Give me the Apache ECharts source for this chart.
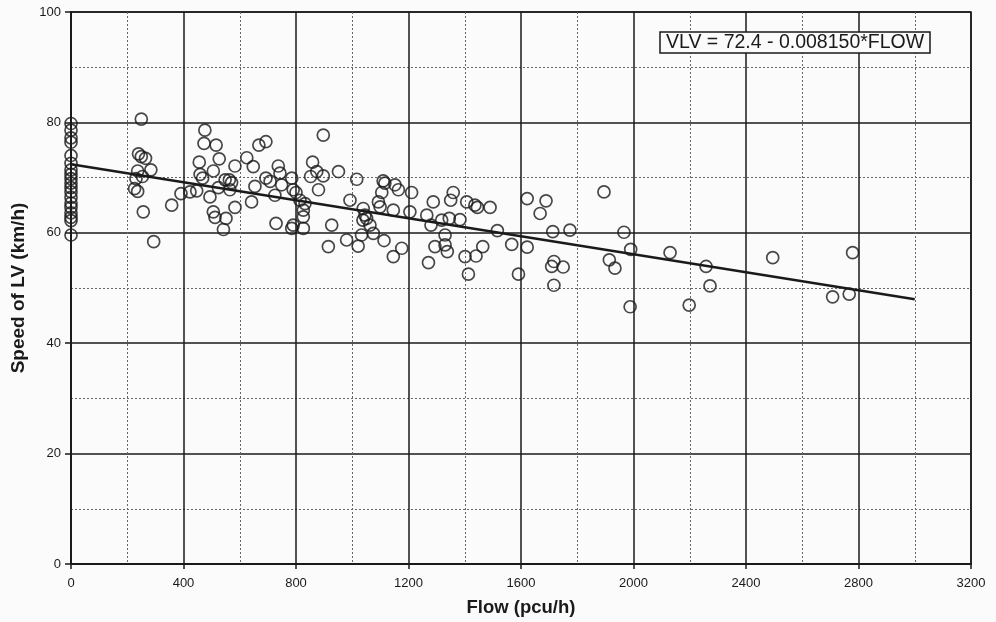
<!DOCTYPE html>
<html>
<head>
<meta charset="utf-8">
<script src="https://cdn.jsdelivr.net/npm/echarts@6/dist/echarts.min.js"></script>
<style>
html,body{margin:0;padding:0;background:#fbfbfb;}
#chart{width:996px;height:622px;}
</style>
</head>
<body>
<div id="chart"></div>
<script>
// Observed points: flow (pcu/h) and speed of LV (km/h)
var flowValues = [
  0,0,0,0,0,0,0,0,0,0,0,0,0,0,0,0,0,0,0,
  250,240,250,265,284,237,254,231,226,237,257,358,391,423,447,294,
  476,473,516,527,456,506,459,468,583,548,563,571,524,565,494,583,506,512,551,542,
  668,693,625,648,642,654,693,708,725,737,743,749,785,790,800,729,814,826,826,832,790,826,785,
  897,859,874,852,897,880,951,927,915,
  1016,1110,1116,1152,1164,1105,1211,992,1039,1045,1051,1063,1038,1093,1099,1146,1205,980,1021,1033,1075,1113,1146,1176,
  1288,1359,1350,1407,1436,1445,1490,1265,1280,1318,1345,1383,1330,1330,1338,1294,1271,1401,1440,1413,
  1622,1689,1668,1895,1516,1464,1567,1622,1591,1713,1774,1717,1709,1750,1717,1966,1990,1914,1934,1988,
  2130,2258,2272,2198,2495,2779,2708,2767
];
var speedValues = [
  79.8,78.6,77.2,76.4,74.0,72.6,71.4,70.6,69.8,69.0,68.2,67.4,66.4,65.4,64.6,63.6,62.8,62.2,59.6,
  80.6,74.3,73.8,73.5,71.4,71.2,70.2,69.8,68.0,67.5,63.8,65.0,67.1,67.4,67.6,58.4,
  78.6,76.2,75.9,73.4,72.8,71.2,70.6,69.9,72.1,69.6,69.6,69.1,68.2,67.8,66.5,64.6,63.8,62.8,62.6,60.6,
  75.9,76.5,73.6,72.0,65.6,68.4,69.9,69.3,66.8,72.1,70.8,68.7,69.9,67.8,67.3,61.7,65.9,64.1,62.9,65.3,61.4,60.8,60.8,
  77.7,72.8,71.1,70.2,70.3,67.8,71.1,61.4,57.5,
  69.7,69.4,69.0,68.7,67.8,67.3,67.3,65.9,64.4,63.2,62.6,61.4,62.3,65.6,64.7,64.1,63.8,58.7,57.6,59.6,59.9,58.6,55.7,57.2,
  65.6,67.3,65.9,65.6,65.0,64.6,64.6,63.2,61.4,62.3,62.6,62.4,59.6,57.8,56.6,57.5,54.6,55.7,55.8,52.5,
  66.2,65.8,63.5,67.4,60.4,57.5,57.9,57.4,52.5,60.2,60.5,54.8,53.9,53.8,50.5,60.1,57.0,55.1,53.6,46.6,
  56.4,53.9,50.4,46.9,55.5,56.4,48.4,48.9
];
// Fitted line end points (VLV = 72.4 - 0.008150*FLOW)
var fitFlow = [0, 3000];
var fitSpeed = [72.4, 47.95];
var equationText = 'VLV = 72.4 - 0.008150*FLOW';
var xTitle = 'Flow (pcu/h)';
var yTitle = 'Speed of LV (km/h)';

var scatterData = flowValues.map(function(f, i){ return [f, speedValues[i]]; });
var fitData = fitFlow.map(function(f, i){ return [f, fitSpeed[i]]; });

var ink = '#1a1a1a';
var font = 'Liberation Sans, Arial, Helvetica, sans-serif';
var chart = echarts.init(document.getElementById('chart'));
chart.setOption({
  backgroundColor: '#fbfbfb',
  animation: false,
  title: {
    text: equationText,
    left: 660, top: 32,
    padding: [1, 6, 0, 6],
    borderColor: ink, borderWidth: 1.5,
    backgroundColor: '#fbfbfb',
    textStyle: { fontFamily: font, fontSize: 19.5, fontWeight: 'normal', color: ink }
  },
  grid: { left: 71, right: 25, top: 12, bottom: 58, show: true, borderColor: ink, borderWidth: 1.5,
          containLabel: false, outerBoundsMode: 'none' },
  xAxis: {
    type: 'value', min: 0, max: 3200, interval: 400,
    name: xTitle, nameLocation: 'middle', nameGap: 34,
    nameTextStyle: { fontFamily: font, fontSize: 18.5, fontWeight: 'bold', color: ink },
    axisLine: { show: true, lineStyle: { color: ink, width: 2 } },
    axisTick: { show: true, length: 5, lineStyle: { color: ink, width: 1.5 } },
    axisLabel: { fontFamily: font, fontSize: 13, color: ink, margin: 13, formatter: function(v){ return String(v); } },
    splitLine: { show: true, lineStyle: { color: ink, width: 1.5 } },
    minorTick: { show: false, splitNumber: 2 },
    minorSplitLine: { show: true, lineStyle: { color: '#666', width: 1, type: [2, 2] } }
  },
  yAxis: {
    type: 'value', min: 0, max: 100, interval: 20,
    name: yTitle, nameLocation: 'middle', nameGap: 43, nameRotate: 90,
    nameTextStyle: { fontFamily: font, fontSize: 19, fontWeight: 'bold', color: ink },
    axisLine: { show: true, lineStyle: { color: ink, width: 2 } },
    axisTick: { show: true, length: 6, lineStyle: { color: ink, width: 1.5 } },
    axisLabel: { fontFamily: font, fontSize: 13, color: ink, margin: 10, formatter: function(v){ return String(v); } },
    splitLine: { show: true, lineStyle: { color: ink, width: 1.5 } },
    minorTick: { show: false, splitNumber: 2 },
    minorSplitLine: { show: true, lineStyle: { color: '#666', width: 1, type: [2, 2] } }
  },
  series: [
    {
      type: 'scatter', data: scatterData, symbol: 'circle', symbolSize: 12,
      itemStyle: { color: 'rgba(0,0,0,0)', borderColor: ink, borderWidth: 1.7 },
      z: 3
    },
    {
      type: 'line', data: fitData, symbol: 'none',
      lineStyle: { color: ink, width: 2.5 }, z: 4
    }
  ]
});
</script>
</body>
</html>
